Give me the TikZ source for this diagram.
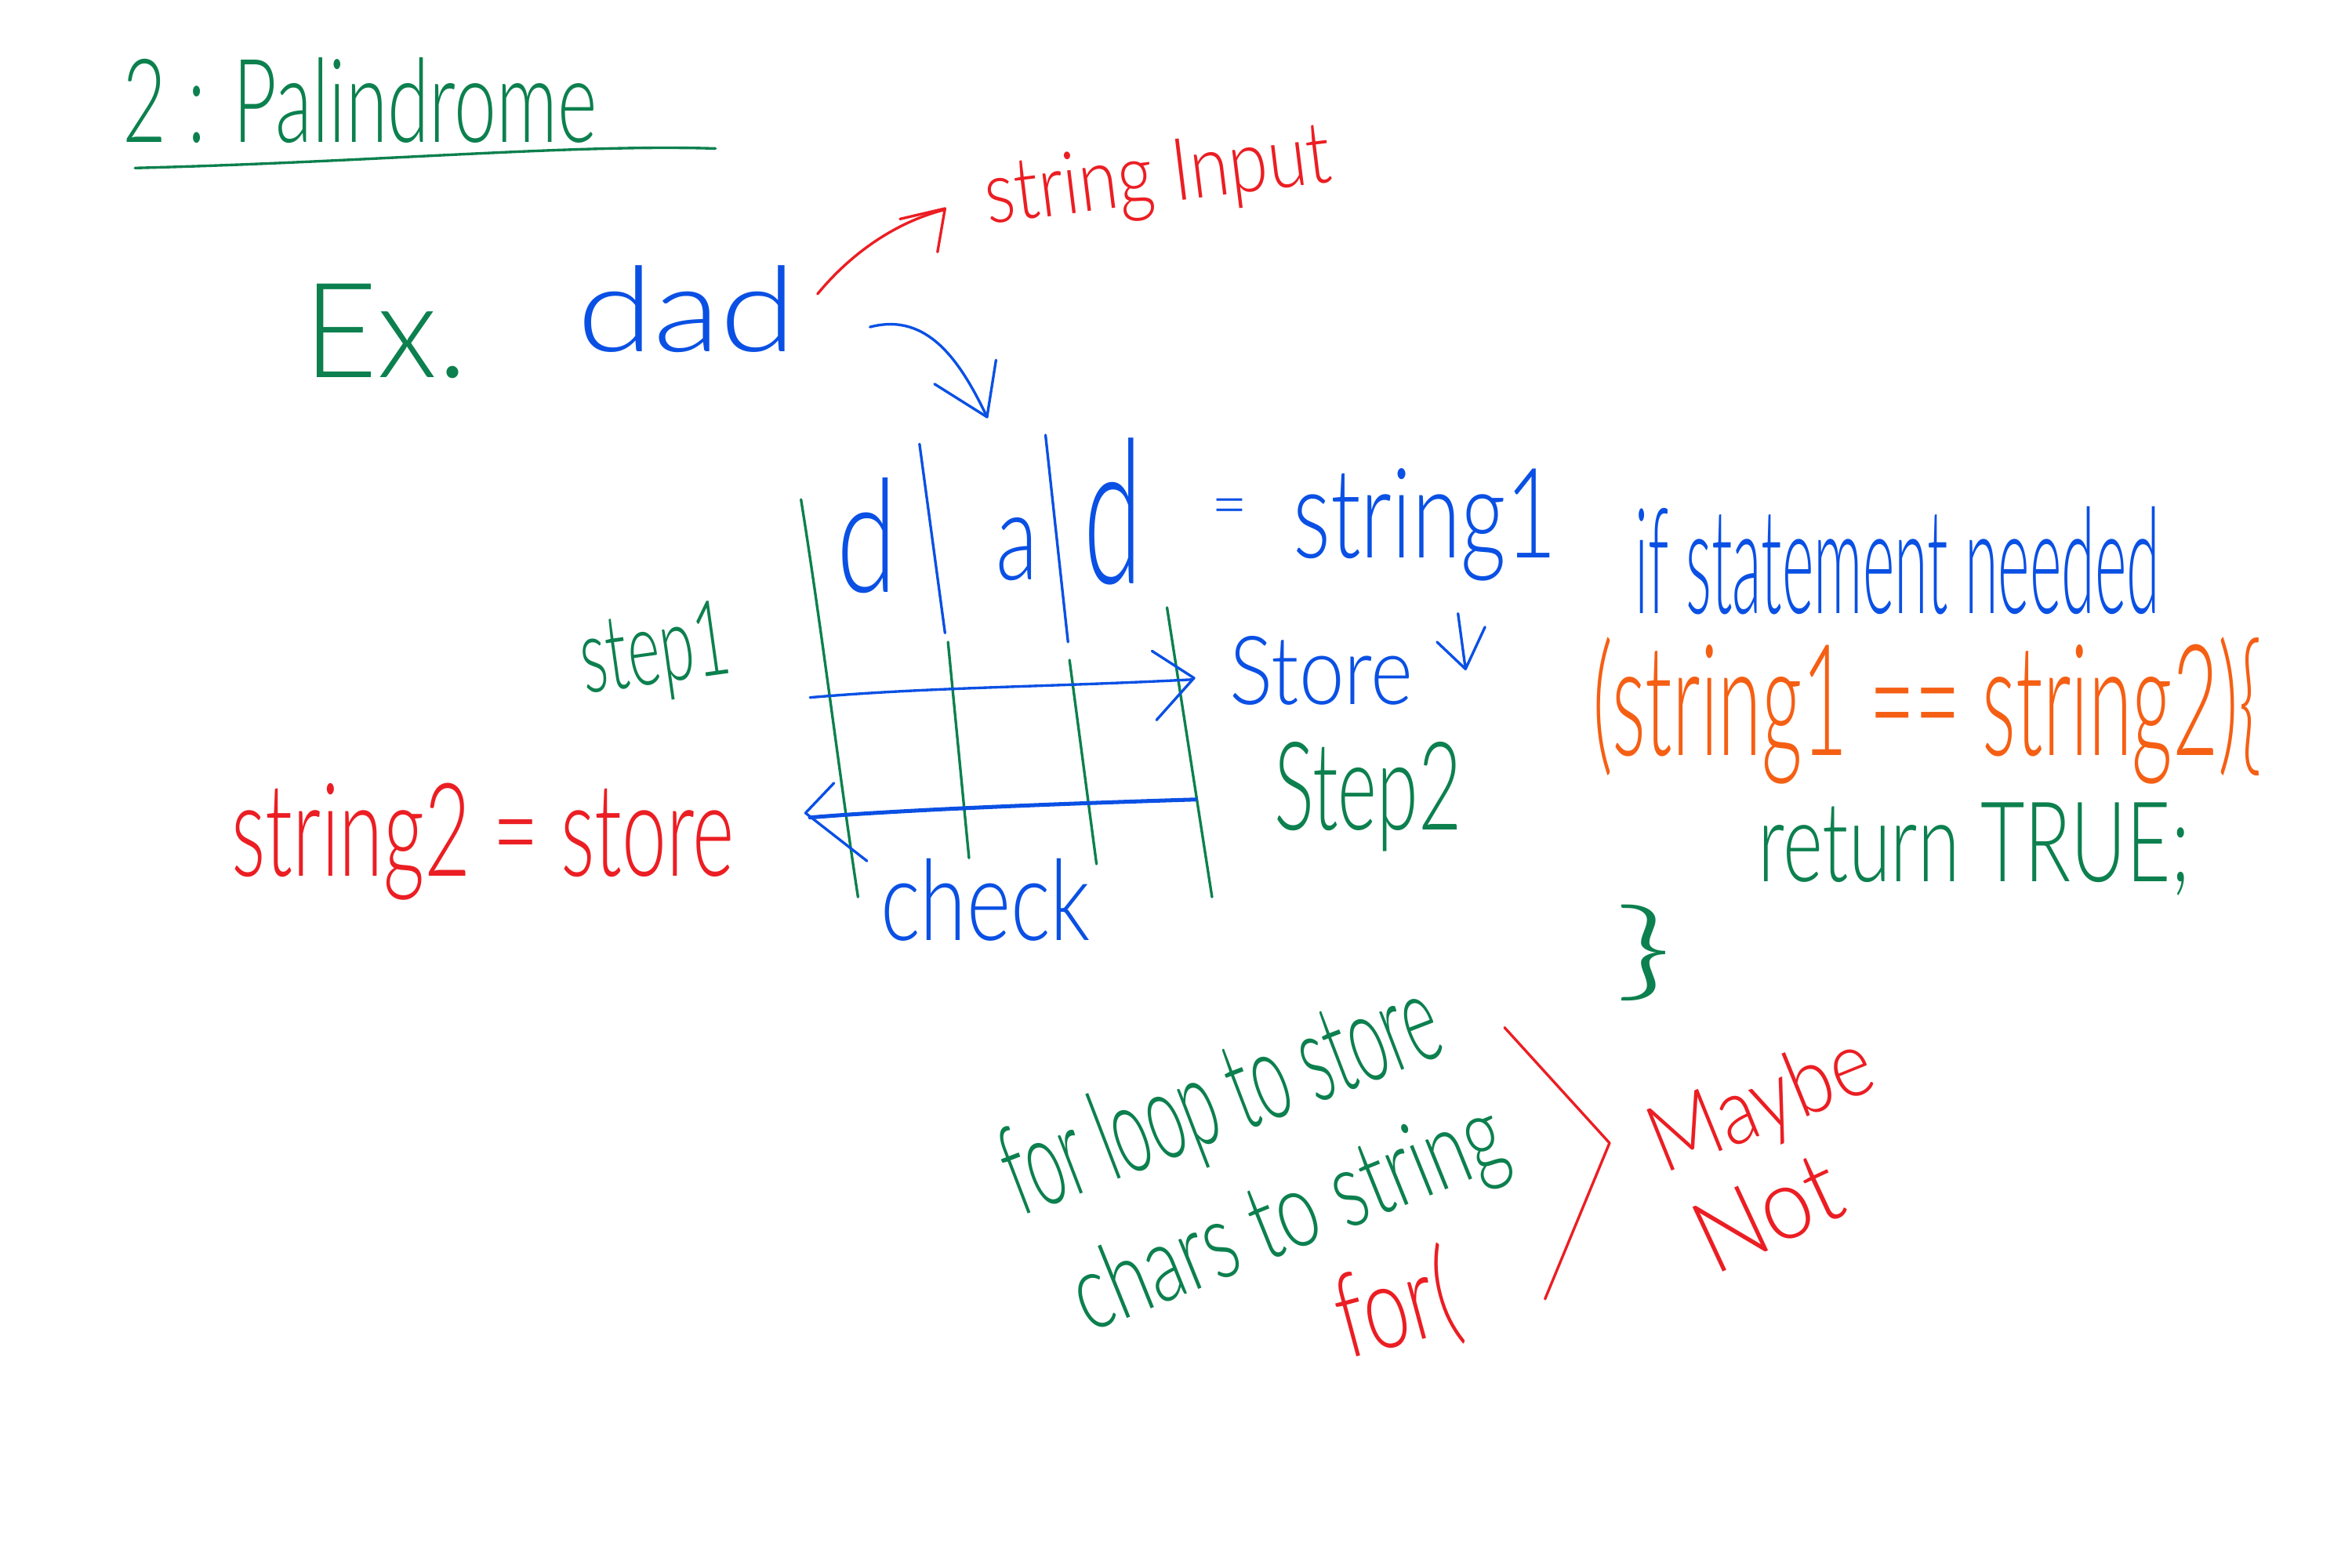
\documentclass[tikz,border=0pt]{standalone}
\usepackage{fontspec}
\IfFontExistsTF{Lato Light}{\setmainfont{Lato Light}}{%
  \IfFontExistsTF{Lato Thin}{\setmainfont{Lato Thin}}{%
    \IfFontExistsTF{Open Sans Light}{\setmainfont{Open Sans Light}}{\setmainfont{Open Sans}}}}
\usepackage{graphicx}
\newlength\hwu
\setlength\hwu{0.02cm}
\newcommand\hwbox[3]{\resizebox*{#1\hwu}{#2\hwu}{#3}}
\definecolor{hwgreen}{RGB}{12,128,78}
\definecolor{hwblue}{RGB}{10,80,228}
\definecolor{hwred}{RGB}{235,30,35}
\definecolor{hworange}{RGB}{245,95,20}
\begin{document}
\begin{tikzpicture}[x=0.02cm,y=-0.02cm,line cap=round,line join=round,
  pen/.style={line width=1pt},
  lbl/.style={inner sep=0pt,outer sep=0pt}]
\fill[white] (0,0) rectangle (1568,1045);
\useasboundingbox (0,0) rectangle (1568,1045);
% title
\node[lbl,text=hwgreen] (title) at (240,67) {\hwbox{316}{57}{2 : Palindrome}};
\coordinate (ula) at (90,112);
\coordinate (ulb) at (477,99);
\draw[pen,hwgreen] (ula) .. controls (250,108) and (380,96) .. (ulb);
% example
\node[lbl,text=hwgreen] (ex) at (257,221) {\hwbox{109}{63}{Ex.}};
\node[lbl,text=hwblue] (dad) at (458,206) {\hwbox{146}{58}{dad}};
\node[lbl,text=hwred,rotate=7] (sinput) at (772,120) {\hwbox{232}{52}{string Input}};
% red arrow to string input
\coordinate (ra1) at (545,196);
\coordinate (ra2) at (629,140);
\draw[pen,hwred] (ra1) .. controls (568,168) and (598,148) .. (ra2);
\draw[pen,hwred] (600,146) -- (630,139) -- (625,168);
% blue arrow to table
\coordinate (ba1) at (580,218);
\coordinate (ba2) at (658,278);
\draw[pen,hwblue] (ba1) .. controls (618,208) and (640,240) .. (ba2);
\draw[pen,hwblue] (664,240) -- (ba2) -- (623,256);
% table grid
\draw[pen,hwgreen] (534,333) .. controls (548,420) and (560,520) .. (572,598);
\draw[pen,hwblue] (613,296) -- (630,422);
\draw[pen,hwgreen] (632,428) -- (646,572);
\draw[pen,hwblue] (697,290) -- (712,428);
\draw[pen,hwgreen] (713,440) -- (731,576);
\draw[pen,hwgreen] (778,405) -- (808,598);
% letters
\node[lbl,text=hwblue] (c1) at (578,357) {\hwbox{40}{77}{d}};
\node[lbl,text=hwblue] (c2) at (678,366) {\hwbox{28}{42}{a}};
\node[lbl,text=hwblue] (c3) at (742,341) {\hwbox{39}{98}{d}};
% arrows in table
\coordinate (ta1) at (540,465);
\coordinate (ta2) at (795,453);
\draw[pen,hwblue] (ta1) .. controls (620,458) and (700,458) .. (ta2);
\draw[pen,hwblue] (768,434) -- (796,452) -- (771,480);
\coordinate (tb1) at (797,533);
\coordinate (tb2) at (540,545);
\draw[hwblue,line width=1.5pt] (tb1) .. controls (700,536) and (600,540) .. (tb2);
\draw[pen,hwblue] (556,522) -- (537,542) -- (578,574);
% labels around table
\node[lbl,text=hwblue] (eq1) at (820,342) {\hwbox{24}{19}{=}};
\node[lbl,text=hwblue] (str1) at (950,350) {\hwbox{176}{75}{string1}};
\node[lbl,text=hwblue] (store) at (881,447) {\hwbox{122}{46}{Store}};
\draw[pen,hwblue] (972,409) -- (977,446) -- (990,418);
\draw[pen,hwblue] (977,446) -- (958,428);
\node[lbl,text=hwgreen] (step2) at (912,531) {\hwbox{125}{73}{Step2}};
\node[lbl,text=hwgreen,rotate=8] (step1) at (437,437) {\hwbox{100}{62}{step1}};
\node[lbl,text=hwred] (s2) at (322,561) {\hwbox{335}{78}{string2 = store}};
\node[lbl,text=hwblue] (check) at (657,600) {\hwbox{140}{55}{check}};
% right code
\node[lbl,text=hwblue] (ifst) at (1265,374) {\hwbox{350}{72}{if statement needed}};
\node[lbl,text=hworange] (cond) at (1285,474) {\hwbox{446}{98}{(string1 == string2)\{}};
\node[lbl,text=hwgreen] (ret) at (1316,566) {\hwbox{288}{62}{return TRUE;}};
\node[lbl,text=hwgreen] (brace) at (1096,635) {\hwbox{40}{64}{\}}};
% for loop notes
\node[lbl,text=hwgreen,rotate=21] (forloop) at (815,735) {\hwbox{305}{75}{for loop to store}};
\node[lbl,text=hwgreen,rotate=22] (chars) at (860,814) {\hwbox{305}{65}{chars to string}};
\node[lbl,text=hwred,rotate=15] (forp) at (931,872) {\hwbox{80}{70}{for(}};
\draw[pen,hwred] (1003,685) -- (1073,762) -- (1030,866);
\node[lbl,text=hwred,rotate=22] (maybe) at (1175,738) {\hwbox{155}{56}{Maybe}};
\node[lbl,text=hwred,rotate=25] (nott) at (1178,808) {\hwbox{100}{48}{Not}};
\end{tikzpicture}
\end{document}
